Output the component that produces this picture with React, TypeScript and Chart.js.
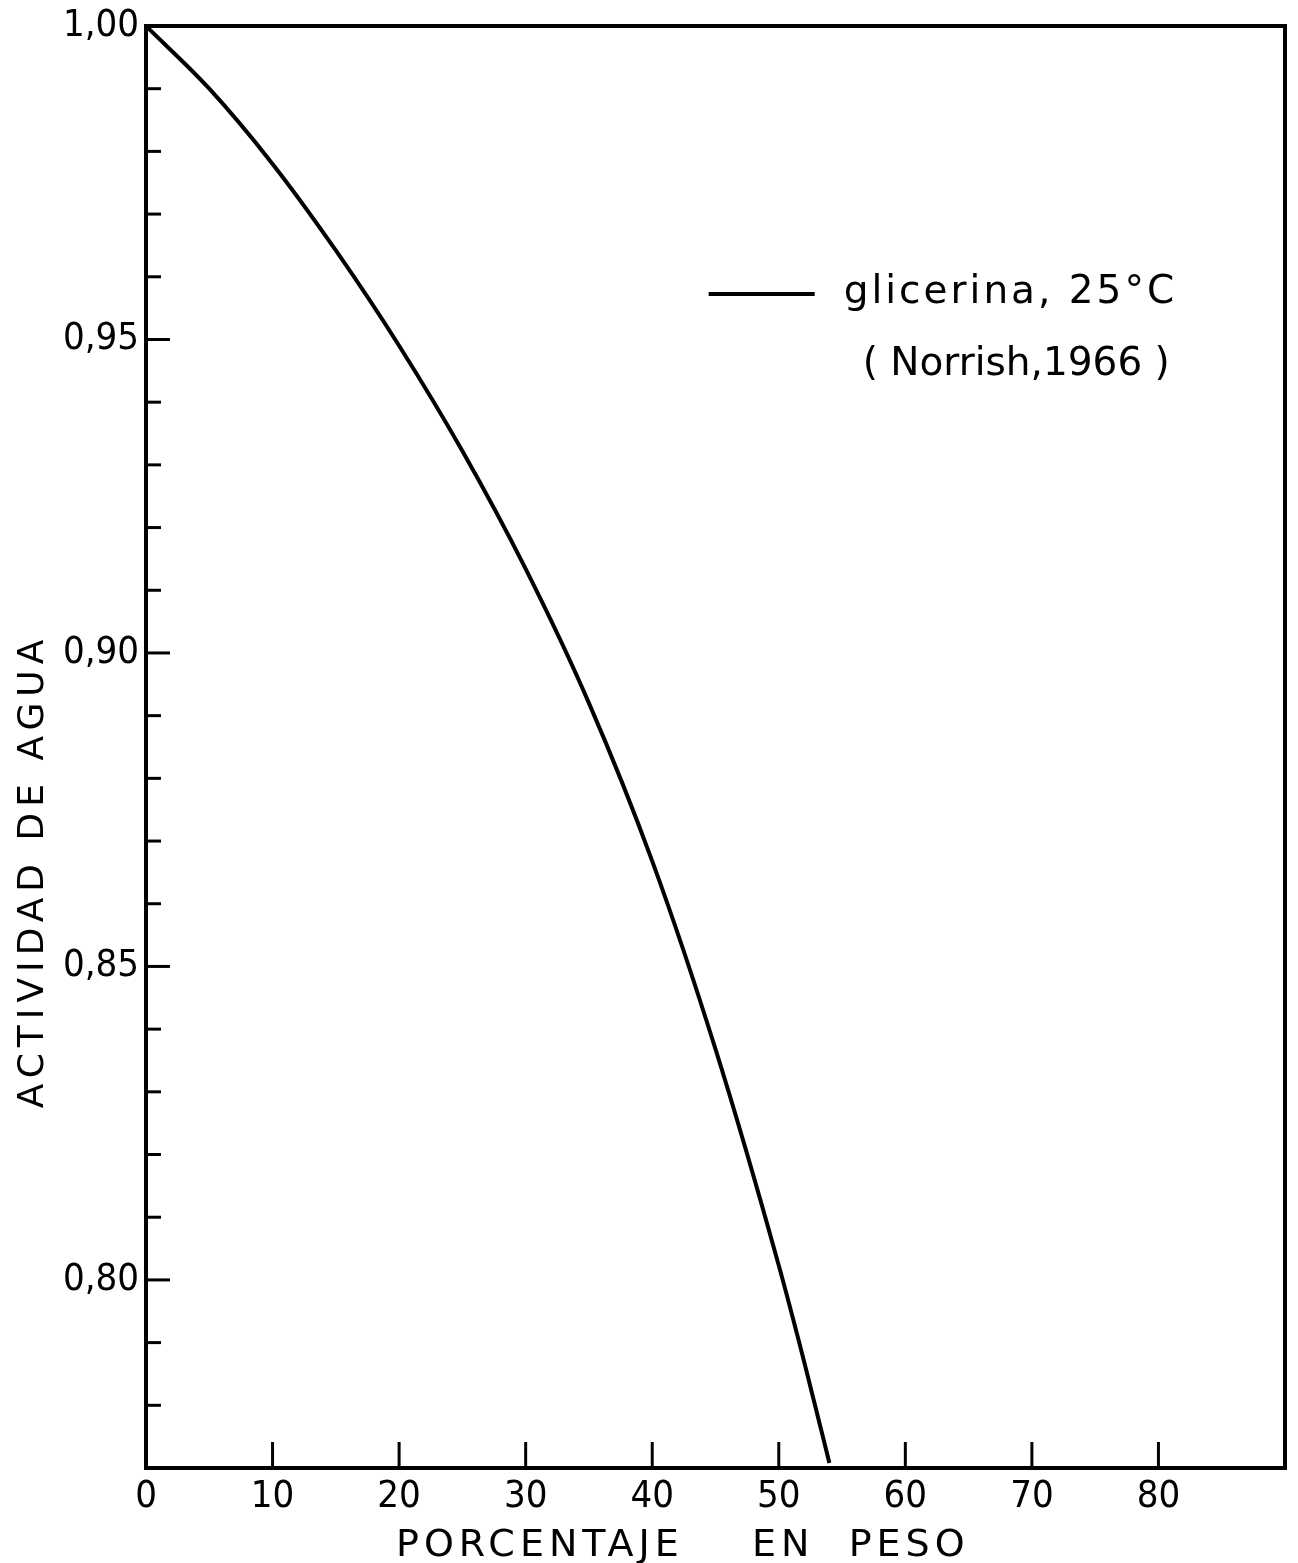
import { useEffect, useRef } from 'react';
import { Chart, registerables } from 'chart.js';

Chart.register(...registerables);

// Glycerol solution: weight percent vs water activity at 25 °C
const glycerolPct = [0, 5, 10, 15, 20, 25, 30, 35, 40, 45, 50, 52, 54];
const waterActivity = [1.0, 0.99, 0.978, 0.9642, 0.949, 0.9322, 0.9134, 0.892, 0.8668, 0.8368, 0.8023, 0.787, 0.7708];

const xTickStep = 10;
const xHiddenTicks = [90];
const yLabelEvery = 5; // hundredths between labelled ticks (0,80 0,85 ...)

const seriesLabel = 'glicerina, 25°C';
const sourceNote = '( Norrish,1966 )';
const xTitle = 'PORCENTAJE    EN  PESO';
const yTitle = 'ACTIVIDAD DE AGUA';

const TICK_FONT = "'DejaVu Sans Condensed', 'DejaVu Sans', sans-serif";
const TEXT_FONT = "'DejaVu Sans', sans-serif";
const INK = '#000000';

const isHundredth = (v: number) => Math.abs(v * 100 - Math.round(v * 100)) < 1e-6;

// Frame, inward tick marks, axis titles and the legend box
const framePlugin = {
  id: 'frameAndNotes',
  afterDraw(chart: any) {
    const { ctx, chartArea: a, scales } = chart;
    const xs = scales.x;
    const ys = scales.y;
    ctx.save();
    ctx.strokeStyle = INK;
    ctx.fillStyle = INK;
    ctx.lineCap = 'butt';

    // inward ticks on the y axis
    ctx.lineWidth = 3;
    ys.ticks.forEach((t: any) => {
      const v = t.value;
      if (!isHundredth(v) || v <= ys.min + 1e-9 || v >= ys.max - 1e-9) return;
      const major = Math.round(v * 100) % yLabelEvery === 0;
      const py = ys.getPixelForValue(v);
      ctx.beginPath();
      ctx.moveTo(a.left, py);
      ctx.lineTo(a.left + (major ? 24 : 15), py);
      ctx.stroke();
    });

    // inward ticks on the x axis
    xs.ticks.forEach((t: any) => {
      const v = t.value;
      if (v <= xs.min || v >= xs.max) return;
      const px = xs.getPixelForValue(v);
      ctx.beginPath();
      ctx.moveTo(px, a.bottom);
      ctx.lineTo(px, a.bottom - 26);
      ctx.stroke();
    });

    // frame around the plotting area
    ctx.lineWidth = 4;
    ctx.strokeRect(a.left, a.top, a.right - a.left, a.bottom - a.top);

    // axis titles
    ctx.textBaseline = 'alphabetic';
    ctx.font = `38px ${TEXT_FONT}`;
    (ctx as any).letterSpacing = '5px';
    ctx.textAlign = 'left';
    ctx.fillText(xTitle, a.left + 0.2195 * (a.right - a.left), a.bottom + 88);

    ctx.save();
    ctx.font = `36px ${TEXT_FONT}`;
    (ctx as any).letterSpacing = '6px';
    ctx.translate(a.left - 103, a.top + 0.586 * (a.bottom - a.top));
    ctx.rotate(-Math.PI / 2);
    ctx.textAlign = 'center';
    ctx.fillText(yTitle, 0, 0);
    ctx.restore();

    // legend
    const ds = chart.data.datasets[0];
    const lx = a.left + 0.494 * (a.right - a.left);
    const ly = a.top + 268;
    ctx.lineWidth = ds.borderWidth;
    ctx.beginPath();
    ctx.moveTo(lx, ly);
    ctx.lineTo(lx + 106, ly);
    ctx.stroke();
    ctx.font = `39px ${TEXT_FONT}`;
    (ctx as any).letterSpacing = '3px';
    ctx.textAlign = 'left';
    ctx.fillText(ds.label, lx + 135, ly + 9);
    (ctx as any).letterSpacing = '0px';
    ctx.fillText(sourceNote, lx + 154, ly + 81);

    ctx.restore();
  },
};

export default function App() {
  const canvasRef = useRef<HTMLCanvasElement | null>(null);

  useEffect(() => {
    const canvas = canvasRef.current;
    if (!canvas) return;
    const points = glycerolPct.map((x, i) => ({ x, y: waterActivity[i] }));

    const chart = new Chart(canvas, {
      type: 'line',
      data: {
        datasets: [
          {
            label: seriesLabel,
            data: points,
            borderColor: INK,
            borderWidth: 4,
            pointRadius: 0,
            fill: false,
            cubicInterpolationMode: 'monotone',
          },
        ],
      },
      options: {
        animation: false,
        responsive: true,
        maintainAspectRatio: false,
        layout: { padding: { left: 0, top: 24, right: 13, bottom: 0 } },
        plugins: {
          legend: { display: false },
          tooltip: { enabled: false },
        },
        scales: {
          x: {
            type: 'linear',
            min: 0,
            max: 90,
            grid: { display: false, drawTicks: false },
            border: { display: false },
            afterFit: (s: any) => {
              s.height = 95;
            },
            ticks: {
              stepSize: xTickStep,
              autoSkip: false,
              maxRotation: 0,
              padding: 10,
              color: INK,
              font: { family: TICK_FONT, size: 38, lineHeight: 1 },
              callback: (v: any) => (xHiddenTicks.includes(Number(v)) ? '' : String(v)),
            },
          },
          y: {
            type: 'linear',
            min: 0.77,
            max: 1.0,
            grid: { display: false, drawTicks: false },
            border: { display: false },
            afterFit: (s: any) => {
              s.width = 146;
            },
            ticks: {
              stepSize: 0.01,
              autoSkip: false,
              padding: 7,
              color: INK,
              font: { family: TICK_FONT, size: 38, lineHeight: 1 },
              callback: (v: any) => {
                const n = Number(v);
                if (!isHundredth(n)) return '';
                return Math.round(n * 100) % yLabelEvery === 0 ? n.toFixed(2).replace('.', ',') : '';
              },
            },
          },
        },
      },
      plugins: [framePlugin],
    });

    return () => chart.destroy();
  }, []);

  return (
    <div style={{ position: 'absolute', left: 0, top: 0, width: 1298, height: 1563, background: '#ffffff' }}>
      <canvas ref={canvasRef} />
    </div>
  );
}
